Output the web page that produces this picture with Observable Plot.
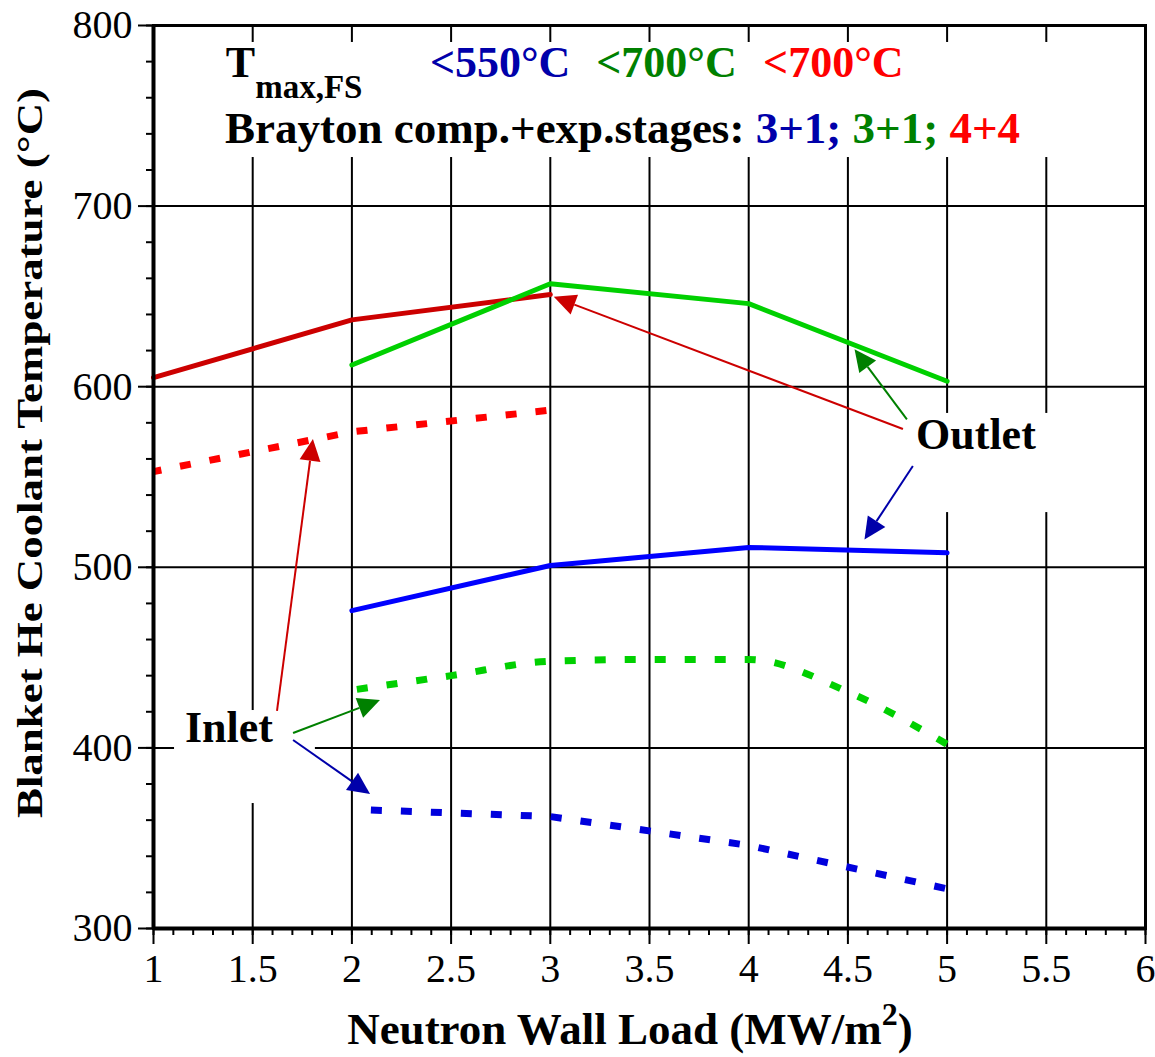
<!DOCTYPE html>
<html>
<head>
<meta charset="utf-8">
<script src="https://cdn.jsdelivr.net/npm/d3@7"></script>
<script src="https://cdn.jsdelivr.net/npm/@observablehq/plot@0.6"></script>
<style>
  html, body { margin: 0; padding: 0; background: #fff; }
  #chart svg { display: block; }
</style>
</head>
<body>
<div id="chart"></div>
<script>
// ---------------- data ----------------
const outletRedLoad   = [1, 2, 3];
const outletRedTemp   = [605, 637, 651];
const outletGreenLoad = [2, 3, 4, 5];
const outletGreenTemp = [612, 657, 646, 603];
const outletBlueLoad  = [2, 3, 4, 5];
const outletBlueTemp  = [476, 501, 511, 508];

const inletRedLoad    = [1, 2, 3];
const inletRedTemp    = [553, 575, 587];
const inletGreenLoad  = [2, 2.5, 3, 3.5, 4, 4.5, 5];
const inletGreenTemp  = [432, 440, 448, 449, 449, 431, 402];
const inletBlueLoad   = [2, 3, 4, 5];
const inletBlueTemp   = [366, 362, 346, 322];

const xMajorTicks = [1, 1.5, 2, 2.5, 3, 3.5, 4, 4.5, 5, 5.5, 6];
const xTickLabels = ["1", "1.5", "2", "2.5", "3", "3.5", "4", "4.5", "5", "5.5", "6"];
const xMinorTicks = d3.range(10, 61).map(d => d / 10);
const xGridTicks  = [1.5, 2, 2.5, 3, 3.5, 4, 4.5, 5, 5.5];
const yMajorTicks = [300, 400, 500, 600, 700, 800];
const yMinorTicks = d3.range(300, 801, 20);
const yGridTicks  = [400, 500, 600, 700];

const xTitle = "Neutron Wall Load (MW/m";
const yTitle = "Blanket He Coolant Temperature (°C)";

// annotation arrows (data coordinates: tail -> tip)
const arrows = [
  {x1: 4.78, y1: 576.3, x2: 3.02, y2: 649.5, color: "#cc0000"},
  {x1: 4.80, y1: 581.6, x2: 4.536, y2: 620.5, color: "#008000"},
  {x1: 4.83, y1: 555.8, x2: 4.586, y2: 515.1, color: "#0000aa"},
  {x1: 1.625, y1: 420.2, x2: 1.806, y2: 570.8, color: "#cc0000"},
  {x1: 1.706, y1: 408.0, x2: 2.144, y2: 426.2, color: "#008000"},
  {x1: 1.706, y1: 404.1, x2: 2.094, y2: 374.2, color: "#0000aa"}
];

// white backgrounds behind the annotation texts (data coordinates)
const maskBoxes = [
  {x1: 1.012, x2: 5.99, y1: 726.9, y2: 790.6},
  {x1: 4.57, x2: 5.70, y1: 530.3, y2: 585.2},
  {x1: 1.106, x2: 1.816, y1: 369.2, y2: 420.7}
];

const headerLine1 = [
  {text: "<550°C", x: 2.396, color: "#0000aa"},
  {text: "<700°C", x: 3.234, color: "#008000"},
  {text: "<700°C", x: 4.075, color: "#ff0000"}
];
const headerLine2 = [
  {text: "Brayton comp.+exp.stages: ", color: "#000000"},
  {text: "3+1; ", color: "#0000aa"},
  {text: "3+1; ", color: "#008000"},
  {text: "4+4", color: "#ff0000"}
];

const rows = (xs, ys) => xs.map((x, i) => ({x, y: ys[i]}));
const serif = "'Liberation Serif', 'Times New Roman', Times, serif";

// ---------------- annotation mark (uses Plot's scales) ----------------
function annotations(index, scales, values, dim) {
  const X = scales.x, Y = scales.y;
  const g = d3.create("svg:g")
    .attr("font-family", serif).attr("font-weight", "bold").attr("text-anchor", "start");

  // arrows
  for (const a of arrows) {
    const x0 = X(a.x1), y0 = Y(a.y1), x1 = X(a.x2), y1 = Y(a.y2);
    const ang = Math.atan2(y1 - y0, x1 - x0);
    const L = 22, W = 10.5;
    const bx = x1 - L * Math.cos(ang), by = y1 - L * Math.sin(ang);
    g.append("line").attr("x1", x0).attr("y1", y0).attr("x2", bx).attr("y2", by)
      .attr("stroke", a.color).attr("stroke-width", 2);
    const px = -Math.sin(ang) * W, py = Math.cos(ang) * W;
    g.append("path")
      .attr("d", `M${x1},${y1}L${bx + px},${by + py}L${bx - px},${by - py}Z`)
      .attr("fill", a.color);
  }

  // labels
  g.append("text").attr("x", X(4.846)).attr("y", Y(565.2)).attr("font-size", 44).text("Outlet");
  g.append("text").attr("x", X(1.161)).attr("y", Y(403)).attr("font-size", 44).text("Inlet");

  // header line 1
  const t = g.append("text").attr("x", X(1.367)).attr("y", Y(771)).attr("font-size", 44);
  t.append("tspan").text("T");
  t.append("tspan").attr("font-size", 33).attr("dy", 21).text("max,FS");
  for (const h of headerLine1) {
    g.append("text").attr("x", X(h.x)).attr("y", Y(771)).attr("font-size", 44)
      .attr("fill", h.color).text(h.text);
  }
  // header line 2
  const l2 = g.append("text").attr("x", X(1.363)).attr("y", Y(734.7)).attr("font-size", 45)
    .style("white-space", "pre");
  for (const h of headerLine2) l2.append("tspan").attr("fill", h.color).text(h.text);

  // axis titles
  const xt = g.append("text").attr("x", X(3.404)).attr("y", dim.height - 13)
    .attr("text-anchor", "middle").attr("font-size", 45);
  xt.append("tspan").text(xTitle);
  xt.append("tspan").attr("font-size", 32).attr("dy", -19).text("2");
  xt.append("tspan").attr("dy", 19).text(")");

  g.append("text")
    .attr("transform", `translate(${dim.marginLeft - 111},${Y(563)}) rotate(-90)`)
    .attr("text-anchor", "middle").attr("font-size", 35)
    .attr("textLength", 730).attr("lengthAdjust", "spacingAndGlyphs")
    .text(yTitle);
  return g.node();
}

const chart = Plot.plot({
  width: 1155,
  height: 1057,
  marginLeft: 153,
  marginRight: 10,
  marginTop: 25,
  marginBottom: 129,
  x: {domain: [1, 6]},
  y: {domain: [300, 800]},
  style: {fontFamily: serif, background: "white", color: "black", overflow: "visible"},
  marks: [
    Plot.gridX(xGridTicks, {stroke: "black", strokeOpacity: 1, strokeWidth: 2}),
    Plot.gridY(yGridTicks, {stroke: "black", strokeOpacity: 1, strokeWidth: 2}),
    Plot.rect(maskBoxes, {x1: "x1", x2: "x2", y1: "y1", y2: "y2", fill: "white"}),

    Plot.line(rows(outletRedLoad, outletRedTemp), {x: "x", y: "y", stroke: "#cc0000", strokeWidth: 5}),
    Plot.line(rows(outletGreenLoad, outletGreenTemp), {x: "x", y: "y", stroke: "#00d000", strokeWidth: 5}),
    Plot.line(rows(outletBlueLoad, outletBlueTemp), {x: "x", y: "y", stroke: "#0000ff", strokeWidth: 5}),

    Plot.line(rows(inletRedLoad, inletRedTemp), {x: "x", y: "y", stroke: "#ff0000", strokeWidth: 7,
      strokeDasharray: "11,19", strokeDashoffset: 3, strokeLinecap: "butt"}),
    Plot.line(rows(inletGreenLoad, inletGreenTemp), {x: "x", y: "y", curve: "monotone-x", stroke: "#00d000", strokeWidth: 7,
      strokeDasharray: "11,19", strokeDashoffset: 25, strokeLinecap: "butt"}),
    Plot.line(rows(inletBlueLoad, inletBlueTemp), {x: "x", y: "y", stroke: "#0000dd", strokeWidth: 7,
      strokeDasharray: "11,19", strokeDashoffset: 11, strokeLinecap: "butt"}),

    annotations,

    Plot.axisX(xMinorTicks, {anchor: "bottom", tickSize: 7, tickFormat: () => "", label: null, strokeWidth: 2}),
    Plot.axisX(xMajorTicks, {anchor: "bottom", tickSize: 16, tickPadding: 9, fontSize: 40, label: null,
      strokeWidth: 2, tickFormat: (d, i) => xTickLabels[i]}),
    Plot.axisY(yMinorTicks, {anchor: "left", tickSize: 7, tickFormat: () => "", label: null, strokeWidth: 2}),
    Plot.axisY(yMajorTicks, {anchor: "left", tickSize: 15, tickPadding: 6, fontSize: 40, label: null,
      strokeWidth: 2}),

    Plot.frame({stroke: "black", strokeWidth: 3}),
    Plot.ruleX([1], {stroke: "black", strokeWidth: 4}),
    Plot.ruleY([300], {stroke: "black", strokeWidth: 4})
  ]
});

document.getElementById("chart").append(chart);
</script>
</body>
</html>
